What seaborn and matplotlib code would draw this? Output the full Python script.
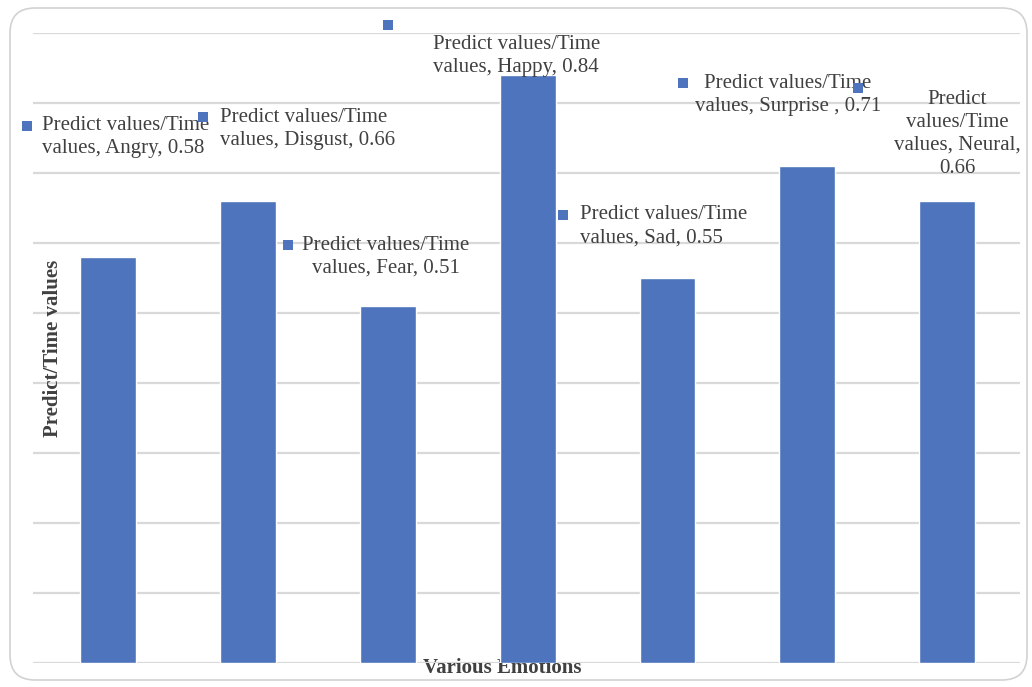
import textwrap

import matplotlib
matplotlib.use("Agg")
import matplotlib.pyplot as plt
from matplotlib.patches import FancyBboxPatch
import pandas as pd
import seaborn as sns

# ---- data ----
emotions = ["Angry", "Disgust", "Fear", "Happy", "Sad", "Surprise ", "Neural"]
predict_time = [0.58, 0.66, 0.51, 0.84, 0.55, 0.71, 0.66]
grid_levels = [0.0, 0.1, 0.2, 0.3, 0.4, 0.5, 0.6, 0.7, 0.8, 0.9]
series_name = "Predict values/Time values"

# ---- data-label layout (data coordinates) ----
marker_xy = [(-0.58, 0.767), (0.68, 0.780), (1.29, 0.597), (2.00, 0.911),
             (3.255, 0.640), (4.11, 0.829), (5.36, 0.821)]
text_xy = [(-0.47, 0.751), (0.80, 0.763), (1.39, 0.580), (2.32, 0.867),
           (3.375, 0.624), (4.86, 0.811), (6.07, 0.756)]
text_ha = ["left", "left", "left", "left", "left", "center", "center"]
text_multi = ["left", "left", "center", "left", "left", "center", "center"]
wrap_width = [23, 23, 23, 23, 23, 23, 15]

BLUE = "#4D74BD"
TEXT = "#404040"
GRID = "#d9d9d9"

sns.set_theme(style="white")
plt.rcParams["font.family"] = ["Liberation Serif", "DejaVu Serif"]

fig = plt.figure(figsize=(10.32, 6.87), dpi=100)
fig.patch.set_facecolor("white")

# rounded outer frame
frame = FancyBboxPatch((0.10, 0.07), 10.17, 6.72,
                       boxstyle="round,pad=0,rounding_size=0.25",
                       transform=fig.dpi_scale_trans,
                       facecolor="none", edgecolor="#d2d2d2", linewidth=1.2,
                       zorder=-1)
fig.patches.append(frame)

ax = fig.add_axes([33 / 1032, 24 / 687, 987 / 1032, 630 / 687])
ax.set_facecolor("none")

df = pd.DataFrame({"Emotion": emotions, "Value": predict_time})
sns.barplot(data=df, x="Emotion", y="Value", color=BLUE, width=0.4,
            saturation=1, ax=ax, zorder=3)

ax.set_xlim(-0.536, 6.52)
ax.set_ylim(0, 0.9)
ax.set_yticks(grid_levels)
ax.grid(axis="y", color=GRID, linewidth=1.6, zorder=0)
ax.grid(axis="x", visible=False)
ax.set_axisbelow(True)
ax.tick_params(left=False, bottom=False, labelleft=False, labelbottom=False)
for sp in ax.spines.values():
    sp.set_visible(False)

# axis titles
ax.set_xlabel("Various Emotions", fontsize=15, fontweight="bold", color=TEXT)
ax.xaxis.set_label_coords((502 - 33) / 987, (663 - 668) / 630)
ax.xaxis.label.set_va("center")
ax.set_ylabel("Predict/Time values", fontsize=15, fontweight="bold", color=TEXT)
ax.yaxis.set_label_coords((53 - 33) / 987, (663 - 348) / 630)
ax.yaxis.label.set_va("center")

# data labels with legend-key squares
for i, (emo, val) in enumerate(zip(emotions, predict_time)):
    label = textwrap.fill(f"{series_name}, {emo}, {val:.2f}", wrap_width[i])
    mx, my = marker_xy[i]
    ax.scatter([mx], [my], marker="s", s=48, color=BLUE, clip_on=False,
               zorder=5, linewidths=0)
    tx, ty = text_xy[i]
    ax.text(tx, ty, label, ha=text_ha[i], va="center", multialignment=text_multi[i],
            fontsize=15, color=TEXT, linespacing=1.28, zorder=4)

fig.savefig("out.png", dpi=100)
